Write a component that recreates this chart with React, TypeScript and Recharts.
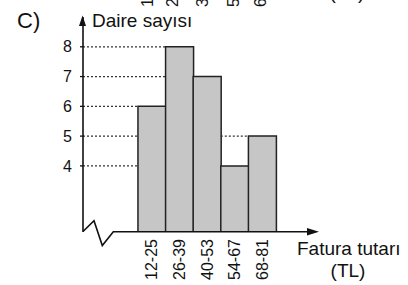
import { BarChart, Bar, XAxis, YAxis, ReferenceLine } from "recharts"

// veriler
const categories = ["12-25", "26-39", "40-53", "54-67", "68-81"]
const counts = [6, 8, 7, 4, 5]
const yTicks = [4, 5, 6, 7, 8]
// üstte kesilmiş önceki grafiğin etiket parçaları
const prevLabels = ["1", "2", "3", "5", "6"]

const xMin = -2.49
const xMax = 6.02
const yMin = 1.78
const yMax = 9.0

const data = categories.map((name, i) => ({ idx: i, name, count: counts[i] }))

// kesikli yardımcı çizgiler: eksenden ilk yetişen sütuna, ve basamak yükselişleri
const guides: { y: number; from: number; to: number }[] = []
yTicks.forEach((t) => {
  const i = counts.findIndex((c) => c >= t)
  if (i >= 0) guides.push({ y: t, from: xMin, to: i - 0.5 })
})
counts.forEach((c, i) => {
  if (i > 0 && counts[i - 1] < c) {
    let j = i - 1
    while (j >= 0 && counts[j] < c) j--
    const from = j < 0 ? xMin : j + 0.5
    if (!guides.some((g) => g.y === c && g.from === from)) guides.push({ y: c, from, to: i - 0.5 })
  }
})

const font = "'Liberation Sans', Arial, sans-serif"

const XTick = (props: any) => {
  const { x, y, payload } = props
  const top = y + 1
  return (
    <text
      x={x}
      y={top}
      transform={`rotate(-90 ${x} ${top})`}
      textAnchor="end"
      dy="0.35em"
      fontSize={16}
      fontFamily={font}
      fill="#111"
    >
      {categories[payload.value]}
    </text>
  )
}

export default function App() {
  return (
    <div style={{ position: "relative", width: 408, height: 285, background: "#fff" }}>
      <style>{`body{margin:0}`}</style>
      <BarChart
        width={408}
        height={285}
        data={data}
        margin={{ top: 17, right: 90, left: 0, bottom: 0 }}
        barCategoryGap={0}
      >
        <XAxis
          dataKey="idx"
          type="number"
          domain={[xMin, xMax]}
          allowDataOverflow
          ticks={[0, 1, 2, 3, 4]}
          height={53}
          axisLine={false}
          tickLine={false}
          tickSize={0}
          tickMargin={6}
          tick={<XTick />}
          interval={0}
        />
        <YAxis
          type="number"
          domain={[yMin, yMax]}
          allowDataOverflow
          ticks={yTicks}
          width={83}
          axisLine={{ stroke: "#111", strokeWidth: 1.6 }}
          tickLine={{ stroke: "#111", strokeWidth: 1.3 }}
          tickSize={3}
          tickMargin={8}
          interval={0}
          tick={{ fill: "#111", fontSize: 16, fontFamily: font }}
        />
        {guides.map((g, k) => (
          <ReferenceLine
            key={k}
            segment={[
              { x: g.from, y: g.y },
              { x: g.to, y: g.y },
            ]}
            stroke="#333"
            strokeWidth={1.3}
            strokeDasharray="2 2"
          />
        ))}
        <Bar
          dataKey="count"
          fill="#c6c6c6"
          stroke="#222"
          strokeWidth={1.5}
          isAnimationActive={false}
        />
      </BarChart>
      <svg
        width={408}
        height={285}
        style={{ position: "absolute", left: 0, top: 0, pointerEvents: "none" }}
        fontFamily={font}
      >
        {prevLabels.map((t, i) => (
          <text
            key={t}
            x={[147, 172, 202, 233, 260][i]}
            y={7}
            transform={`rotate(-90 ${[147, 172, 202, 233, 260][i]} 7)`}
            dy="0.35em"
            fontSize={16}
            fill="#111"
          >
            {t}
          </text>
        ))}
        <text x={347} y={-1} textAnchor="middle" fontSize={19} fill="#111">
          (TL)
        </text>
        <text x={17} y={28} fontSize={22} fill="#111">
          C)
        </text>
        <text x={92} y={26.5} fontSize={19} fill="#111">
          Daire sayısı
        </text>
        <polygon points="82.5,15.5 79,26 86,26" fill="#111" />
        <polyline
          points="83,231.5 94,220.7 102.3,245.5 113.3,231.7 309,231.7"
          fill="none"
          stroke="#111"
          strokeWidth={1.6}
          strokeLinejoin="miter"
        />
        <polygon points="319,231.7 307,228 307,235.4" fill="#111" />
        <text x={297} y={255} fontSize={19} fill="#111">
          Fatura tutarı
        </text>
        <text x={348} y={277} textAnchor="middle" fontSize={19} fill="#111">
          (TL)
        </text>
      </svg>
    </div>
  )
}
